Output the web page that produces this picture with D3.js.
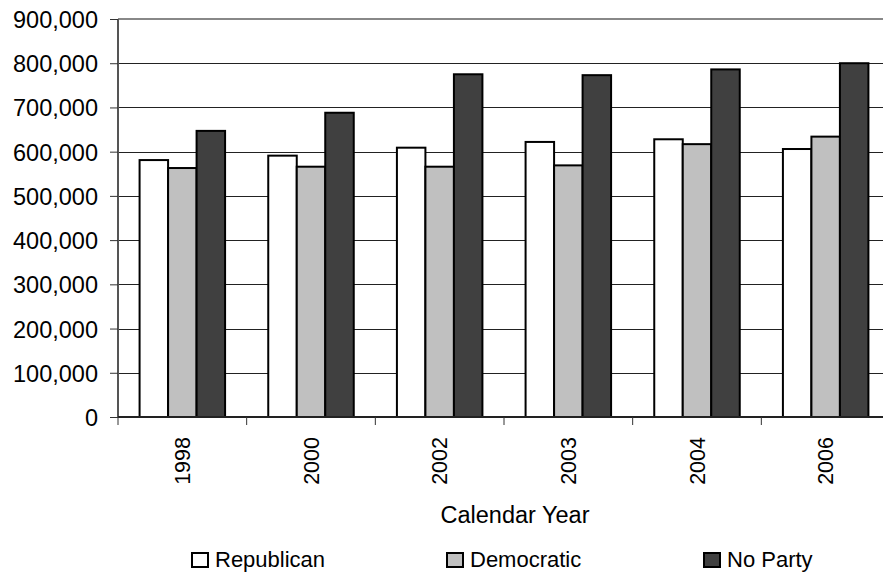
<!DOCTYPE html>
<html><head><meta charset="utf-8">
<script src="https://cdn.jsdelivr.net/npm/d3@7"></script>
<style>body{margin:0;background:#fff}svg{display:block}text{font-family:"Liberation Sans",Arial,sans-serif;fill:#000}</style>
</head><body><svg id="c" width="883" height="573"></svg>
<script>
const years = ["1998","2000","2002","2003","2004","2006"];
const seriesNames = ["Republican","Democratic","No Party"];
const republican = [581000,591000,609000,622000,628000,606000];
const democratic = [563000,566000,566000,569000,617000,634000];
const noParty = [647000,688000,775000,773000,786000,800000];
const yTicks = [0,100000,200000,300000,400000,500000,600000,700000,800000,900000];
const colors = ["#ffffff","#c0c0c0","#404040"];
const values = [republican, democratic, noParty];

const svg = d3.select("#c");
const L = 118, R = 890, T = 19, B = 417;
const x = d3.scaleBand().domain(years).range([L,R]).paddingInner(0.3355).paddingOuter(0.3355/2);
const xs = d3.scaleBand().domain(seriesNames).range([0,x.bandwidth()]);
const y = d3.scaleLinear().domain([0,900000]).range([B,T]);
const fmt = d3.format(",");

// gridlines
svg.append("g").selectAll("line").data(yTicks.filter(d=>d>0 && d<900000)).join("line")
  .attr("x1",L).attr("x2",R).attr("y1",d=>Math.round(y(d))+0.5).attr("y2",d=>Math.round(y(d))+0.5)
  .attr("stroke","#222").attr("stroke-width",1);
// top border
svg.append("line").attr("x1",L).attr("x2",R).attr("y1",y(900000)).attr("y2",y(900000))
  .attr("stroke","#888").attr("stroke-width",2);

// bars
const g = svg.append("g");
years.forEach((yr,i)=>{
  seriesNames.forEach((s,j)=>{
    g.append("rect")
      .attr("x",x(yr)+xs(s)).attr("width",xs.bandwidth())
      .attr("y",y(values[j][i])).attr("height",B-y(values[j][i]))
      .attr("fill",colors[j]).attr("stroke","#000").attr("stroke-width",2);
  });
});

// y axis
const yAxis = d3.axisLeft(y).tickValues(yTicks).tickFormat(fmt).tickSize(8).tickPadding(12);
const ya = svg.append("g").attr("transform",`translate(${L},0)`).call(yAxis);
ya.select(".domain").attr("stroke","#555").attr("stroke-width",2).attr("d",`M0,${T}V${B}`);
ya.selectAll(".tick line").attr("stroke","#333");
ya.selectAll(".tick text").style("font-size","23.5px").attr("fill","#000").attr("dy","0.36em");

// x axis
const xa = svg.append("g").attr("transform",`translate(0,${B})`);
xa.append("line").attr("x1",L).attr("x2",R).attr("y1",0).attr("y2",0).attr("stroke","#222").attr("stroke-width",2);
const bounds = years.map((d,i)=>L + i*x.step()).concat([L+years.length*x.step()]);
xa.selectAll("line.tk").data(bounds).join("line").attr("class","tk")
  .attr("x1",d=>d).attr("x2",d=>d).attr("y1",0).attr("y2",8).attr("stroke","#333");
xa.selectAll("text").data(years).join("text")
  .attr("transform",d=>`translate(${x(d)+x.bandwidth()/2},20) rotate(-90)`)
  .attr("text-anchor","end").attr("dy","0.35em").style("font-size","21.5px").text(d=>d);

// axis title
svg.append("text").attr("x",515).attr("y",523).attr("text-anchor","middle")
  .style("font-size","23.5px").text("Calendar Year");

// legend
const legX = [192,447,704];
seriesNames.forEach((s,j)=>{
  svg.append("rect").attr("x",legX[j]).attr("y",553).attr("width",16).attr("height",14)
    .attr("fill",colors[j]).attr("stroke","#000").attr("stroke-width",2);
  svg.append("text").attr("x",legX[j]+23).attr("y",567).style("font-size","22px").text(s);
});
</script></body></html>
